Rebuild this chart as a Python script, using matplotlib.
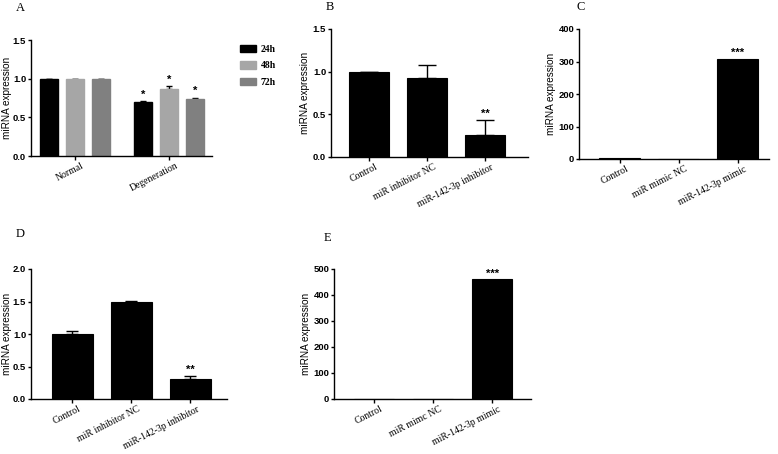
import matplotlib
matplotlib.use("Agg")
import matplotlib.pyplot as plt
import matplotlib.transforms as mtransforms
import numpy as np
from matplotlib.patches import Patch

# ---------------- data ----------------
a_groups = ["Normal", "Degeneration"]
a_series = ["24h", "48h", "72h"]
a_24h = [1.0, 0.70]
a_48h = [1.0, 0.87]
a_72h = [1.0, 0.74]
a_24h_err = [0.0, 0.01]
a_48h_err = [0.0, 0.03]
a_72h_err = [0.0, 0.015]
a_sig = ["", "*"]

b_labels = ["Control", "miR inhibitor NC", "miR-142-3p inhibitor"]
b_values = [1.0, 0.92, 0.26]
b_err = [0.0, 0.16, 0.17]
b_sig = ["", "", "**"]

c_labels = ["Control", "miR mimic NC", "miR-142-3p mimic"]
c_values = [3.0, 1.0, 308.0]
c_err = [0.0, 0.0, 0.0]
c_sig = ["", "", "***"]

d_labels = ["Control", "miR inhibitor NC", "miR-142-3p inhibitor"]
d_values = [1.0, 1.49, 0.31]
d_err = [0.05, 0.02, 0.04]
d_sig = ["", "", "**"]

e_labels = ["Control", "miR mimc NC", "miR-142-3p mimic"]
e_values = [0.0, 0.0, 460.0]
e_err = [0.0, 0.0, 0.0]
e_sig = ["", "", "***"]

colors_a = ["#000000", "#a6a6a6", "#808080"]

W, H = 778, 454
fig = plt.figure(figsize=(W / 100, H / 100), dpi=100)

SERIF = ["Liberation Serif", "DejaVu Serif"]
SANS = ["Liberation Sans", "DejaVu Sans"]


def make_ax(left, right, top, bottom):
    ax = fig.add_axes([left / W, 1 - bottom / H, (right - left) / W, (bottom - top) / H])
    ax._px = (left, right, top, bottom)
    return ax


def style(ax, yticks, ylim, fmt, ylab_x):
    for s in ["top", "right"]:
        ax.spines[s].set_visible(False)
    for s in ["left", "bottom"]:
        ax.spines[s].set_linewidth(1.0)
    ax.set_ylim(*ylim)
    ax.set_yticks(yticks)
    ax.set_yticklabels([fmt.format(v) for v in yticks])
    ax.tick_params(axis="both", direction="out", width=1.0)
    ax.tick_params(axis="y", length=2.5, pad=1)
    ax.tick_params(axis="x", length=3.0, pad=1)
    for t in ax.get_yticklabels():
        t.set_fontfamily(SANS)
        t.set_fontweight("bold")
        t.set_fontsize(6.8)
    ax.set_ylabel("miRNA expression", fontfamily=SANS, fontsize=7.2)
    ax.yaxis.label.set_va("center")
    left, right, top, bottom = ax._px
    ax.yaxis.set_label_coords((ylab_x - left) / (right - left), 0.5)


def xlabels(ax, pos, labels):
    ax.set_xticks(pos)
    ax.set_xticklabels(labels, rotation=27, ha="right", rotation_mode="anchor",
                       fontfamily=SERIF, fontsize=7)
    shift = mtransforms.ScaledTranslation(6 / 100, 0, fig.dpi_scale_trans)
    for t in ax.get_xticklabels():
        t.set_transform(t.get_transform() + shift)


def simple_panel(ax, labels, values, err, sig, xlim, yticks, ylim, fmt, capsize, sigoff, ylab_x):
    x = np.arange(len(labels))
    ax.bar(x, values, width=0.69, color="black", edgecolor="black", linewidth=0.8, zorder=2)
    lower = [0] * len(err)
    ax.errorbar(x, values, yerr=[lower, err], fmt="none", ecolor="black",
                elinewidth=1.0, capsize=capsize, capthick=1.0, zorder=1)
    ax.set_xlim(*xlim)
    style(ax, yticks, ylim, fmt, ylab_x)
    xlabels(ax, x, labels)
    for xi, v, e, s in zip(x, values, err, sig):
        if s:
            ax.text(xi, v + e + sigoff, s, ha="center", va="bottom",
                    fontsize=8, fontweight="bold", fontfamily=SANS)


# ---------------- Panel A ----------------
axA = make_ax(31, 212, 40, 156)
xg = np.arange(len(a_groups))
off = 0.277
bw = 0.2
series_vals = [a_24h, a_48h, a_72h]
series_err = [a_24h_err, a_48h_err, a_72h_err]
for i, (vals, errs, col) in enumerate(zip(series_vals, series_err, colors_a)):
    xs = xg + (i - 1) * off
    axA.bar(xs, vals, width=bw, color=col, edgecolor=col, zorder=2)
    axA.errorbar(xs, vals, yerr=[[0] * len(errs), errs], fmt="none", ecolor="black",
                 elinewidth=1.0, capsize=2.5, capthick=1.0, zorder=1)
    for xi, v, e, s in zip(xs, vals, errs, a_sig):
        if s:
            axA.text(xi, v + e + 0.02, s, ha="center", va="bottom",
                     fontsize=8, fontweight="bold", fontfamily=SANS)
axA.set_xlim(-0.468, 1.457)
style(axA, [0.0, 0.5, 1.0, 1.5], (0, 1.5), "{:.1f}", 7)
xlabels(axA, xg, a_groups)
handles = [Patch(facecolor=c, edgecolor=c, label=l) for c, l in zip(colors_a, a_series)]
leg = fig.legend(handles=handles, loc="upper left", bbox_to_anchor=(231 / W, 1 - 36 / H),
                 frameon=False, prop={"family": SERIF, "weight": "bold", "size": 7},
                 handlelength=1.65, handleheight=0.8, labelspacing=0.75, handletextpad=0.5)

# ---------------- Panel B ----------------
axB = make_ax(331, 528, 29, 157)
simple_panel(axB, b_labels, b_values, b_err, b_sig, (-0.655, 2.74),
             [0.0, 0.5, 1.0, 1.5], (0, 1.5), "{:.1f}", 6.5, 0.02, 305)

# ---------------- Panel C ----------------
axC = make_ax(579, 769, 29, 159)
simple_panel(axC, c_labels, c_values, c_err, c_sig, (-0.69, 2.53),
             [0, 100, 200, 300, 400], (0, 400), "{:.0f}", 0, 2, 551)

# ---------------- Panel D ----------------
axD = make_ax(31, 227, 269, 399)
simple_panel(axD, d_labels, d_values, d_err, d_sig, (-0.70, 2.62),
             [0.0, 0.5, 1.0, 1.5, 2.0], (0, 2.0), "{:.1f}", 4.3, 0.02, 7)

# ---------------- Panel E ----------------
axE = make_ax(334, 531, 269, 399)
simple_panel(axE, e_labels, e_values, e_err, e_sig, (-0.68, 2.66),
             [0, 100, 200, 300, 400, 500], (0, 500), "{:.0f}", 0, 2, 306)

# panel letters
for lab, px, py in [("A", 20, 8), ("B", 330, 7), ("C", 581, 7), ("D", 20, 234), ("E", 327, 238)]:
    fig.text(px / W, 1 - py / H, lab, fontfamily=SERIF, fontsize=9, ha="center", va="center")

fig.savefig("out.png", dpi=100)
